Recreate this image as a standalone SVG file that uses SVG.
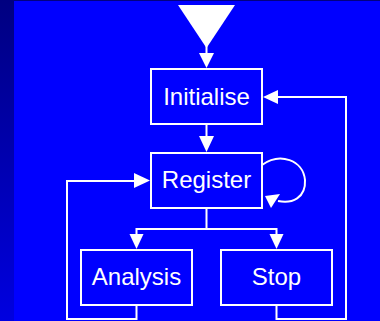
<svg xmlns="http://www.w3.org/2000/svg" width="380" height="321" viewBox="0 0 380 321">
<defs>
<linearGradient id="strip" x1="0" y1="0" x2="0" y2="1">
<stop offset="0" stop-color="#000080"/>
<stop offset="1" stop-color="#0000E0"/>
</linearGradient>
</defs>
<style>
.box{fill:#0000FF;stroke:#FFFFFF;stroke-width:2}
.lbl{fill:#FFFFFF;font-family:"Liberation Sans",Arial,sans-serif;font-size:24px;text-anchor:middle}
.ln{fill:none;stroke:#FFFFFF;stroke-width:2}
.ah{fill:#FFFFFF;stroke:none}
</style>
<rect x="0" y="0" width="380" height="321" fill="#0000FF"/>
<rect x="0" y="0" width="14" height="321" fill="url(#strip)"/>
<rect x="0" y="0" width="380" height="1" fill="#000080"/>
<g id="start">
<polygon class="ah" points="178,5 235,5 206.5,48"/>
</g>
<g id="initialise">
<rect class="box" x="151" y="69" width="111" height="55"/>
<text class="lbl" x="206.5" y="105">Initialise</text>
</g>
<g id="register">
<rect class="box" x="151" y="153" width="111" height="55"/>
<text class="lbl" x="206.5" y="188">Register</text>
</g>
<g id="analysis">
<rect class="box" x="81" y="250" width="111" height="55"/>
<text class="lbl" x="136.5" y="285">Analysis</text>
</g>
<g id="stop">
<rect class="box" x="221" y="250" width="111" height="55"/>
<text class="lbl" x="276.5" y="285">Stop</text>
</g>
<g id="connectors">
<path class="ln" d="M206.5,46 V54"/>
<polygon class="ah" points="199,53 214,53 206.5,68"/>
<path class="ln" d="M206.5,125 V137"/>
<polygon class="ah" points="199,136 214,136 206.5,152"/>
<path class="ln" d="M206.5,209 V229 M136.5,229 H276.5 M136.5,228 V235 M276.5,228 V235"/>
<polygon class="ah" points="129.5,234 143.5,234 136.5,249"/>
<polygon class="ah" points="269.5,234 283.5,234 276.5,249"/>
<path class="ln" d="M262,165 C280,152 303,160 305,180 C306,198 292,204 278,201"/>
<polygon class="ah" points="265,196 280,194 271,208"/>
<path class="ln" d="M136.5,306 V319 H67 V181 H135"/>
<polygon class="ah" points="134,173 134,188 150,180.5"/>
<path class="ln" d="M276.5,306 V319 H346 V97 H277"/>
<polygon class="ah" points="278,90 278,104 263,97"/>
</g>
</svg>
